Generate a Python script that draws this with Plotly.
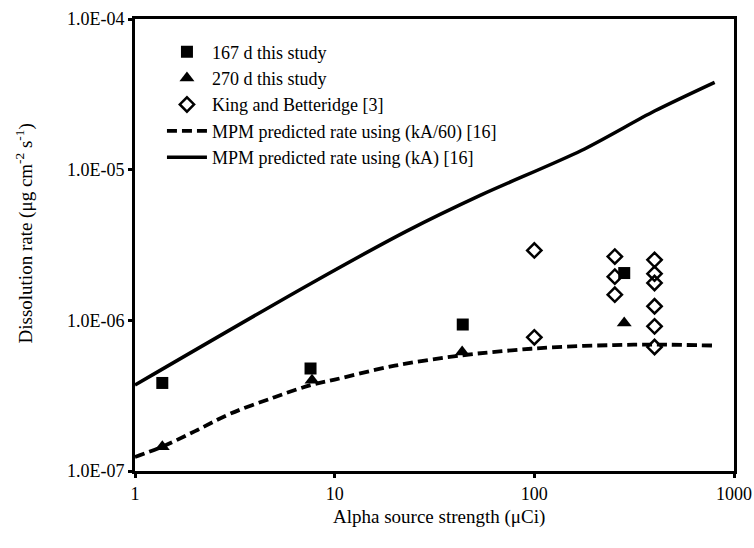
import plotly.graph_objects as go

# ---- data ----
sq_x = [1.37, 7.57, 43.8, 282]
sq_y = [3.84e-7, 4.79e-7, 9.38e-7, 2.06e-6]

tri_x = [1.37, 7.7, 43.5, 282]
tri_y = [1.45e-7, 4.01e-7, 6.17e-7, 9.6e-7]

kb_x = [100, 100, 253, 253, 253, 400, 400, 400, 400, 400, 400]
kb_y = [2.91e-6, 7.71e-7, 2.65e-6, 1.95e-6, 1.48e-6,
        2.52e-6, 2.04e-6, 1.77e-6, 1.24e-6, 9.12e-7, 6.65e-7]

mpm60_x = [1, 1.37, 2, 3, 5, 7.6, 10, 20, 43.5, 77, 130, 250, 400, 800]
mpm60_y = [1.24e-7, 1.45e-7, 1.84e-7, 2.4e-7, 3.09e-7, 3.72e-7, 4.04e-7,
           5.0e-7, 5.86e-7, 6.32e-7, 6.65e-7, 6.85e-7, 6.9e-7, 6.8e-7]

mpm_x = [1, 7.57, 23.2, 54.2, 172, 400, 800]
mpm_y = [3.72e-7, 1.75e-6, 3.94e-6, 6.8e-6, 1.34e-5, 2.45e-5, 3.8e-5]

x_ticks = [1, 10, 100, 1000]
x_ticktext = ["1", "10", "100", "1000"]
y_ticks = [1e-7, 1e-6, 1e-5, 1e-4]
y_ticktext = ["1.0E-07", "1.0E-06", "1.0E-05", "1.0E-04"]

FONT = "Liberation Serif, DejaVu Serif, serif"

fig = go.Figure()
fig.add_trace(go.Scatter(x=sq_x, y=sq_y, mode="markers", name="167 d this study",
                         marker=dict(symbol="square", size=12, color="black")))
fig.add_trace(go.Scatter(x=tri_x, y=tri_y, mode="markers", name="270 d this study",
                         marker=dict(symbol="triangle-up", size=13, color="black")))
fig.add_trace(go.Scatter(x=kb_x, y=kb_y, mode="markers", name="King and Betteridge [3]",
                         marker=dict(symbol="diamond-open", size=11, color="black",
                                     line=dict(width=2.5, color="black"))))
fig.add_trace(go.Scatter(x=mpm60_x, y=mpm60_y, mode="lines", name="MPM predicted rate using (kA/60) [16]",
                         line=dict(color="black", width=3.8, dash="10px,5px", shape="spline")))
fig.add_trace(go.Scatter(x=mpm_x, y=mpm_y, mode="lines", name="MPM predicted rate using (kA) [16]",
                         line=dict(color="black", width=3.5, shape="spline", smoothing=0.8)))

axis_common = dict(showline=True, linewidth=3, linecolor="black", mirror=True,
                   showgrid=False, zeroline=False, ticks="outside", ticklen=4,
                   tickwidth=3, tickcolor="black", automargin=False,
                   tickfont=dict(family=FONT, size=18, color="black"))

fig.update_xaxes(type="log", range=[0, 3], tickvals=x_ticks, ticktext=x_ticktext,
                 **axis_common)
fig.update_yaxes(type="log", range=[-7, -4], tickvals=y_ticks, ticktext=y_ticktext,
                 **axis_common)

fig.update_layout(
    width=754, height=548,
    margin=dict(l=135, r=20, t=19, b=77),
    paper_bgcolor="white", plot_bgcolor="white",
    font=dict(family=FONT, size=18, color="black"),
    showlegend=True,
    legend=dict(x=0.045, y=0.968, xanchor="left", yanchor="top",
                bgcolor="rgba(0,0,0,0)", font=dict(family=FONT, size=18),
                itemwidth=40, tracegroupgap=0),
    annotations=[
        dict(text="Alpha source strength (\u03bcCi)", xref="paper", yref="paper",
             x=0.508, y=-0.102, xanchor="center", yanchor="middle", showarrow=False,
             font=dict(family=FONT, size=19)),
        dict(text="Dissolution rate (\u03bcg cm<sup>-2</sup> s<sup>-1</sup>)",
             xref="paper", yref="paper", x=-0.184, y=0.525, textangle=-90,
             xanchor="center", yanchor="middle", showarrow=False,
             font=dict(family=FONT, size=19)),
    ],
)

fig.write_html("out.html")
